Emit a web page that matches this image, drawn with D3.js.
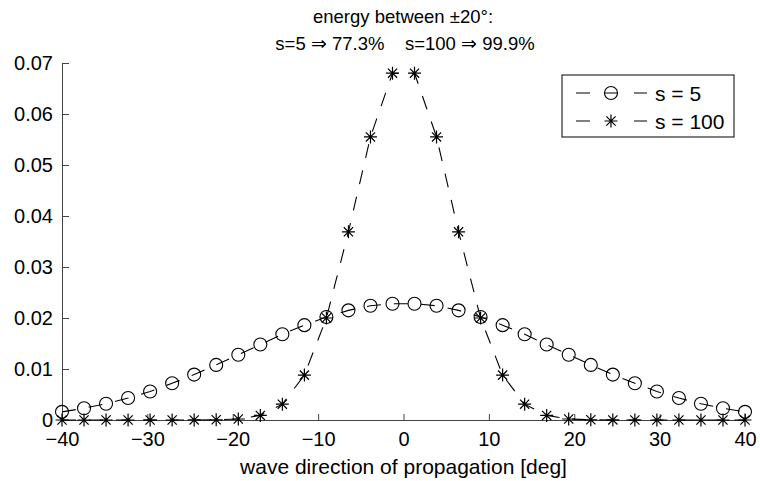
<!DOCTYPE html>
<html>
<head>
<meta charset="utf-8">
<script src="https://cdn.jsdelivr.net/npm/d3@7"></script>
<style>
  html, body { margin: 0; padding: 0; background: #fff; }
  svg { display: block; font-family: "Liberation Sans", Arial, Helvetica, sans-serif; }
</style>
</head>
<body>
<svg id="chart" width="760" height="481"></svg>
<script>
// Directional spreading of wave energy for two spreading parameters
const angles = [-40, -37.42, -34.84, -32.26, -29.68, -27.10, -24.52, -21.94,
                -19.35, -16.77, -14.19, -11.61, -9.03, -6.45, -3.87, -1.29,
                1.29, 3.87, 6.45, 9.03, 11.61, 14.19, 16.77, 19.35,
                21.94, 24.52, 27.10, 29.68, 32.26, 34.84, 37.42, 40];
const s5 = [0.0016, 0.0023, 0.0032, 0.0043, 0.0056, 0.0072, 0.0089, 0.0108,
            0.0128, 0.0148, 0.0168, 0.0186, 0.0202, 0.0215, 0.0224, 0.0228,
            0.0228, 0.0224, 0.0215, 0.0202, 0.0186, 0.0168, 0.0148, 0.0128,
            0.0108, 0.0089, 0.0072, 0.0056, 0.0043, 0.0032, 0.0023, 0.0016];
const s100 = [0, 0, 0, 0, 0, 0, 0.00001, 0.00004,
              0.0002, 0.0009, 0.0031, 0.0088, 0.0200, 0.0369, 0.0555, 0.0680,
              0.0680, 0.0555, 0.0369, 0.0200, 0.0088, 0.0031, 0.0009, 0.0002,
              0.00004, 0.00001, 0, 0, 0, 0, 0, 0];
const xTicks = [-40, -30, -20, -10, 0, 10, 20, 30, 40];
const yTicks = [0, 0.01, 0.02, 0.03, 0.04, 0.05, 0.06, 0.07];
const seriesNames = ["s = 5", "s = 100"];
const titleLines = ["energy between \u00B120\u00B0:", "s=5 \u21D2 77.3%    s=100 \u21D2 99.9%"];
const xLabel = "wave direction of propagation [deg]";

const svg = d3.select("#chart");
const x = d3.scaleLinear().domain([-40, 40]).range([62, 745]);
const y = d3.scaleLinear().domain([0, 0.07]).range([420, 63]);
const axisColor = "#444";

// axes (ticks point inward, no box)
const gx = svg.append("g").attr("transform", `translate(0,${y(0)})`)
  .call(d3.axisBottom(x).tickValues(xTicks).tickSizeInner(-6).tickSizeOuter(0).tickPadding(12));
const gy = svg.append("g").attr("transform", `translate(${x(-40)},0)`)
  .call(d3.axisLeft(y).tickValues(yTicks).tickSizeInner(-7).tickSizeOuter(0).tickPadding(9)
    .tickFormat(d => d === 0 ? "0" : d.toFixed(2)));
[gx, gy].forEach(g => {
  g.select(".domain").attr("stroke", axisColor).attr("stroke-width", 1);
  g.selectAll(".tick line").attr("stroke", axisColor);
  g.selectAll(".tick text").attr("fill", "#000").style("font-size", "20px")
    .style("font-family", "\"Liberation Sans\", Arial, Helvetica, sans-serif");
});

// x label
svg.append("text").attr("x", (x(-40) + x(40)) / 2).attr("y", 474)
  .attr("text-anchor", "middle").style("font-size", "21px").text(xLabel);

// title
svg.append("text").attr("x", 403).attr("y", 22.5).attr("text-anchor", "middle")
  .style("font-size", "18.5px").text(titleLines[0]);
svg.append("text").attr("x", 405).attr("y", 50).attr("text-anchor", "middle")
  .style("font-size", "18.5px").style("white-space", "pre").text(titleLines[1]);

const dash = "14,13";
const line = d3.line().x(d => x(d[0])).y(d => y(d[1]));

const starPath = (r) => {
  const d = r * 0.7071;
  return `M${-r},0H${r}M0,${-r}V${r}M${-d},${-d}L${d},${d}M${-d},${d}L${d},${-d}`;
};

const data5 = angles.map((a, i) => [a, s5[i]]);
const data100 = angles.map((a, i) => [a, s100[i]]);

// s = 5 : dashed line with open circles
svg.append("path").datum(data5).attr("d", line)
  .attr("fill", "none").attr("stroke", "#000").attr("stroke-width", 1.1).attr("stroke-dasharray", dash);
svg.append("g").selectAll("circle").data(data5).join("circle")
  .attr("cx", d => x(d[0])).attr("cy", d => y(d[1])).attr("r", 6.5)
  .attr("fill", "none").attr("stroke", "#000").attr("stroke-width", 1.1);

// s = 100 : dashed line with asterisks
svg.append("path").datum(data100).attr("d", line)
  .attr("fill", "none").attr("stroke", "#000").attr("stroke-width", 1.1).attr("stroke-dasharray", dash);
svg.append("g").selectAll("path").data(data100).join("path")
  .attr("transform", d => `translate(${x(d[0])},${y(d[1])})`)
  .attr("d", starPath(6.5)).attr("fill", "none").attr("stroke", "#000").attr("stroke-width", 1.2);

// legend
const lg = svg.append("g");
lg.append("rect").attr("x", 562).attr("y", 75).attr("width", 172).attr("height", 62)
  .attr("fill", "#fff").attr("stroke", "#000").attr("stroke-width", 1);
const rows = [93, 121];
rows.forEach((ry, i) => {
  lg.append("line").attr("x1", 576).attr("x2", 590).attr("y1", ry).attr("y2", ry).attr("stroke", "#000");
  lg.append("line").attr("x1", 634).attr("x2", 647).attr("y1", ry).attr("y2", ry).attr("stroke", "#000");
  if (i === 0) {
    lg.append("circle").attr("cx", 611).attr("cy", ry).attr("r", 6.5)
      .attr("fill", "none").attr("stroke", "#000").attr("stroke-width", 1.1);
    lg.append("line").attr("x1", 604).attr("x2", 618).attr("y1", ry).attr("y2", ry).attr("stroke", "#000");
  } else {
    lg.append("path").attr("transform", `translate(611,${ry})`).attr("d", starPath(6.5))
      .attr("fill", "none").attr("stroke", "#000").attr("stroke-width", 1.2);
  }
  lg.append("text").attr("x", 655).attr("y", ry).attr("dy", "0.36em")
    .style("font-size", "21px").text(seriesNames[i]);
});
</script>
</body>
</html>
